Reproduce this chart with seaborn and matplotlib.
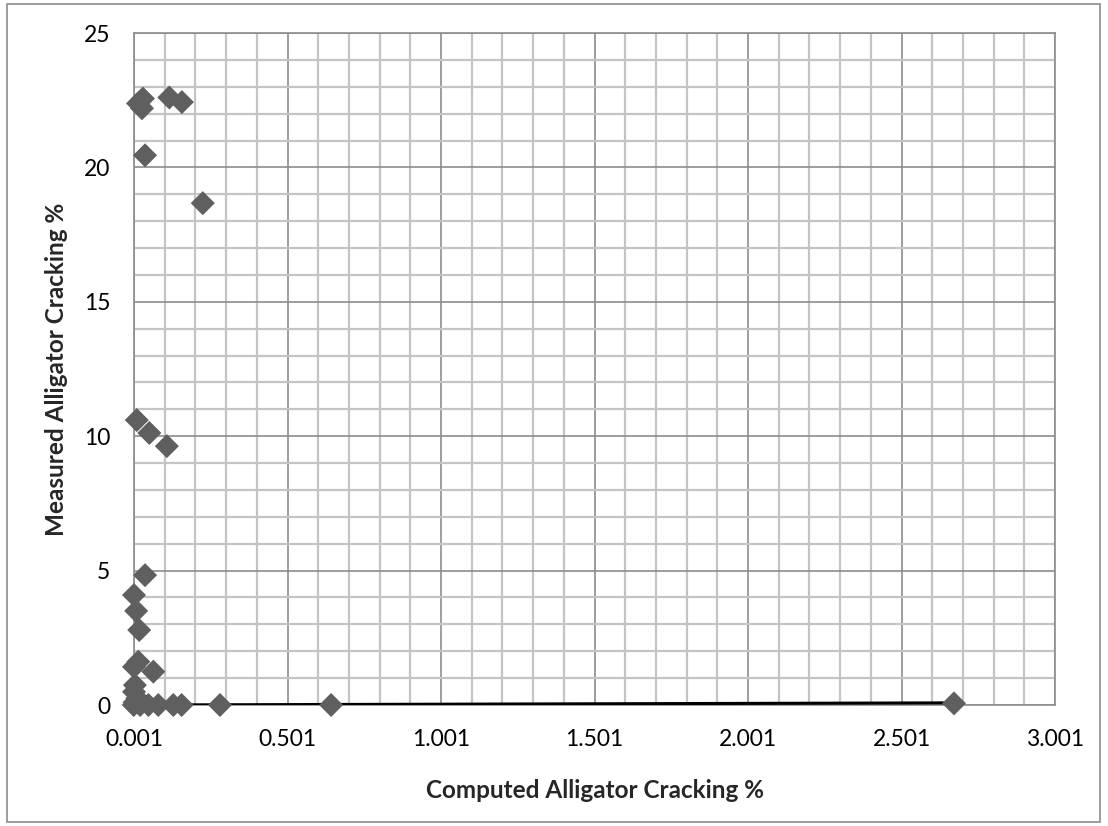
import matplotlib
matplotlib.use("Agg")
import matplotlib.pyplot as plt
from matplotlib.ticker import MultipleLocator, FixedLocator
from matplotlib.patches import Rectangle
import seaborn as sns
import pandas as pd

computed = [0.014, 0.030, 0.027, 0.116, 0.157, 0.037, 0.225, 0.010, 0.051, 0.108,
            0.037, 0.001, 0.008, 0.018, 0.015, 0.001, 0.064, 0.004, 0.001, 0.012,
            0.003, 0.0, 0.021, 0.048, 0.080, 0.129, 0.156, 0.281, 0.643, 2.672]
measured = [22.38, 22.56, 22.2, 22.6, 22.43, 20.45, 18.67, 10.6, 10.12, 9.63,
            4.83, 4.09, 3.5, 2.79, 1.61, 1.42, 1.24, 0.74, 0.49, 0.25,
            0.1, 0.0, 0.0, 0.0, 0.0, 0.0, 0.0, 0.0, 0.0, 0.06]
line_x = [0.0, 2.672]
line_y = [0.0, 0.08]

x_ticks = [0.001, 0.501, 1.001, 1.501, 2.001, 2.501, 3.001]
x_tick_labels = ["0.001", "0.501", "1.001", "1.501", "2.001", "2.501", "3.001"]
y_ticks = [0, 5, 10, 15, 20, 25]

sns.set_theme(style="white")
plt.rcParams['font.family'] = ['Lato', 'DejaVu Sans']

df = pd.DataFrame({"Computed": computed, "Measured": measured})

fig = plt.figure(figsize=(11.08, 8.26), dpi=100)
ax = fig.add_axes([134/1108, 1-705/826, (1055-134)/1108, (705-33)/826])

ax.set_xlim(0.001, 3.001)
ax.set_ylim(0, 25)
ax.xaxis.set_major_locator(FixedLocator(x_ticks))
ax.xaxis.set_minor_locator(FixedLocator([0.001 + 0.1*i for i in range(31)]))
ax.yaxis.set_major_locator(MultipleLocator(5))
ax.yaxis.set_minor_locator(MultipleLocator(1))
ax.grid(which="minor", color="#c4c4c4", linewidth=1.6, zorder=0)
ax.grid(which="major", color="#8c8c8c", linewidth=1.2, zorder=0)
ax.set_axisbelow(True)

sns.lineplot(x=line_x, y=line_y, ax=ax, color="black", linewidth=2.2, zorder=3)
sns.scatterplot(data=df, x="Computed", y="Measured", ax=ax, marker="D", s=150,
                color="#5f5f5f", edgecolor="none", zorder=4, clip_on=False)

ax.set_xticks(x_ticks)
ax.set_xticklabels(x_tick_labels)
ax.set_yticks(y_ticks)
ax.tick_params(axis="both", which="major", labelsize=16.5, labelcolor="black",
               length=7, width=1.2, direction="out", color="#8c8c8c")
ax.tick_params(axis="both", which="minor", length=0)
ax.tick_params(axis="x", pad=10)
ax.tick_params(axis="y", pad=10)
for s in ax.spines.values():
    s.set_color("#8c8c8c")
    s.set_linewidth(1.2)

ax.set_xlabel("Computed Alligator Cracking %", fontsize=17.5, fontweight="bold")
ax.set_ylabel("Measured Alligator Cracking %", fontsize=17.5, fontweight="bold")
ax.xaxis.label.set_va("center")
ax.yaxis.label.set_va("center")
ax.xaxis.set_label_coords(0.5, (705-791)/672)
ax.yaxis.set_label_coords((57-134)/921, 0.5)

fig.patches.append(Rectangle((7/1108, 4/826), 1093/1108, 818/826, transform=fig.transFigure,
                             fill=False, edgecolor="#8c8c8c", linewidth=1.2))

fig.savefig("out.png", dpi=100)
